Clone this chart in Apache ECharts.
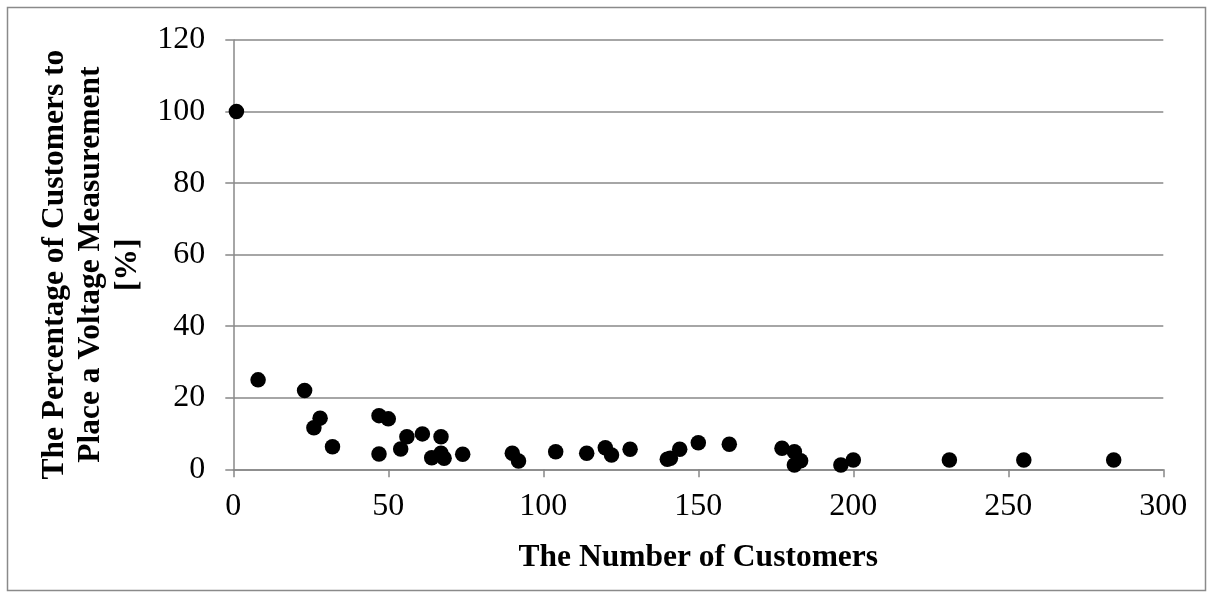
<!DOCTYPE html>
<html>
<head>
<meta charset="utf-8">
<script src="https://cdn.jsdelivr.net/npm/echarts@6/dist/echarts.min.js"></script>
<style>html,body{margin:0;padding:0;background:#fff}#c{width:1213px;height:598px}</style>
</head>
<body>
<div id="c"></div>
<script>
var customers = [1, 8, 23, 26, 28, 32, 47, 47, 50, 54, 56, 61, 64, 67, 67, 68, 74, 90, 92, 104, 114, 120, 122, 128, 140, 141, 144, 150, 160, 177, 181, 181, 183, 196, 200, 231, 255, 284];
var percentage = [100, 25, 22, 11.6, 14.3, 6.3, 15, 4.3, 14.1, 5.7, 9.1, 9.9, 3.2, 9.1, 4.5, 3.1, 4.2, 4.5, 2.3, 4.9, 4.5, 6.0, 4.0, 5.6, 2.8, 3.1, 5.6, 7.4, 7.0, 5.9, 4.9, 1.2, 2.4, 1.2, 2.6, 2.6, 2.6, 2.6];
var xTitle = 'The Number of Customers';
var yTitle = 'The Percentage of Customers to\nPlace a Voltage Measurement\n[%]';

var pts = customers.map(function (c, i) { return [c, percentage[i]]; });
var font = '"Liberation Serif", "Times New Roman", serif';
var gray = '#888888';
var chart = echarts.init(document.getElementById('c'));
chart.setOption({
  animation: false,
  backgroundColor: '#fff',
  graphic: [{
    type: 'rect', shape: {x: 7.5, y: 7.5, width: 1198, height: 583},
    style: {fill: 'none', stroke: '#8a8a8a', lineWidth: 1.5}, silent: true, z: -1
  }],
  grid: {left: 233.3, right: 49.7, top: 40, bottom: 128.7, containLabel: false},
  xAxis: {
    type: 'value', min: 0, max: 300, interval: 50,
    name: xTitle, nameLocation: 'middle', nameGap: 73,
    nameTextStyle: {fontFamily: font, fontSize: 31.5, fontWeight: 'bold', color: '#000'},
    axisLine: {show: true, lineStyle: {color: gray, width: 1.5}},
    axisTick: {show: true, inside: false, length: 8, lineStyle: {color: gray, width: 1.5}},
    axisLabel: {fontFamily: font, fontSize: 32, color: '#000', margin: 21},
    splitLine: {show: false}
  },
  yAxis: {
    type: 'value', min: 0, max: 120, interval: 20,
    name: yTitle, nameLocation: 'middle', nameGap: 83,
    nameTextStyle: {fontFamily: font, fontSize: 31.5, fontWeight: 'bold', color: '#000', lineHeight: 36.8, padding: [0, 20, 0, 0]},
    axisLine: {show: true, lineStyle: {color: gray, width: 1.5}},
    axisTick: {show: true, inside: false, length: 8, lineStyle: {color: gray, width: 1.5}},
    axisLabel: {fontFamily: font, fontSize: 32, color: '#000', margin: 28},
    splitLine: {show: true, lineStyle: {color: gray, width: 1.5}}
  },
  series: [{
    type: 'scatter', data: pts, symbol: 'circle', symbolSize: 15.5,
    itemStyle: {color: '#000', opacity: 1}
  }]
});
</script>
</body>
</html>
